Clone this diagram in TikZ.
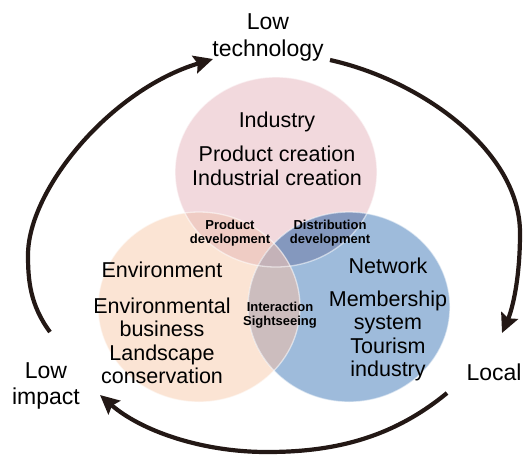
\documentclass[tikz,border=0pt]{standalone}
\usepackage{fontspec}
\setmainfont{Liberation Sans}
\usetikzlibrary{
  arrows.meta,
  positioning,  % Function "of" (e.g. [below=of x])
}
\definecolor{pinkc}{RGB}{242,217,221}
\definecolor{orangec}{RGB}{251,228,212}
\definecolor{bluec}{RGB}{158,187,219}
\definecolor{pinkorange}{RGB}{239,204,196}
\definecolor{pinkblue}{RGB}{132,152,190}
\definecolor{orangeblue}{RGB}{204,189,190}
\definecolor{allthree}{RGB}{196,178,184}
\definecolor{arrowc}{RGB}{35,24,21}
\def\myrx{101}
\def\myry{95}
\tikzset{
  x=1pt,
  y=-1pt,
  big text/.style={
    align=center,
    inner sep=0pt,
    font=\fontsize{21.5}{23.5}\selectfont
  },
  outer text/.style={
    align=center,
    inner sep=0pt,
    font=\fontsize{23}{26.5}\selectfont
  },
  small text/.style={
    align=center,
    inner sep=0pt,
    font=\bfseries\fontsize{13}{14.5}\selectfont
  },
  cycle arrow/.style={
    draw=arrowc,
    line width=4.2pt,
    -{Stealth[length=19pt,width=18pt,inset=3pt]}
  },
  % Light rim round each circle
  rim/.style={
    draw=white,
    draw opacity=0.55,
    line width=1.3pt
  }
}
\newcommand{\pinkpath} {(276,172) ellipse [x radius=\myrx, y radius=\myry]}
\newcommand{\orangepath}{(199,307) ellipse [x radius=\myrx, y radius=\myry]}
\newcommand{\bluepath} {(349,307) ellipse [x radius=\myrx, y radius=\myry]}
\begin{document}
\begin{tikzpicture}
\useasboundingbox (0,0) rectangle (529,456);
% circles
\fill[pinkc] \pinkpath;
\fill[orangec] \orangepath;
\fill[bluec] \bluepath;
\begin{scope}
  \clip \pinkpath;
  \fill[pinkorange] \orangepath;
  \fill[pinkblue] \bluepath;
\end{scope}
\begin{scope}
  \clip \orangepath;
  \fill[orangeblue] \bluepath;
  \clip \bluepath;
  \fill[allthree] \pinkpath;
\end{scope}
\draw[rim] \pinkpath;
\draw[rim] \orangepath;
\draw[rim] \bluepath;
% labels
\node[outer text] (tech)   at (268,37.5) {Low\\technology};
\node[outer text] (impact) at (46,386)   {Low\\impact};
\node[outer text] (local)  at (494,372)  {Local};
\node[big text]   (ind)    at (277,122)  {Industry};
\node[big text]   (indsub) at (277,166)  {Product creation\\Industrial creation};
\node[big text]   (env)    at (162,270)  {Environment};
\node[big text]   (envsub) at (162,341)  {Environmental\\business\\Landscape\\conservation};
\node[big text]   (net)    at (388,266)  {Network};
\node[big text]   (netsub) at (388,336)  {Membership\\system\\Tourism\\industry};
\node[small text] (prod)   at (230,233)  {Product\\development};
\node[small text] (dist)   at (330,233)  {Distribution\\development};
\node[small text] (inter)  at (280,315)  {Interaction\\Sightseeing};
% arrow ends
\coordinate (a1s) at (50,332);
\coordinate (a1e) at (213,59);
\coordinate (a2s) at (330,60);
\coordinate (a2e) at (502,333);
\coordinate (a3s) at (447,393);
\coordinate (a3e) at (100,395);
\draw[cycle arrow] (a1s) .. controls (30,305) and (28,280) .. (28,255)
                         .. controls (28,190) and (110,90) .. (a1e);
\draw[cycle arrow] (a2s) .. controls (420,80) and (520,150) .. (520,233)
                         .. controls (520,280) and (512,310) .. (a2e);
\draw[cycle arrow] (a3s) .. controls (390,440) and (330,452) .. (267,452)
                         .. controls (200,452) and (140,430) .. (a3e);
\end{tikzpicture}
\end{document}
